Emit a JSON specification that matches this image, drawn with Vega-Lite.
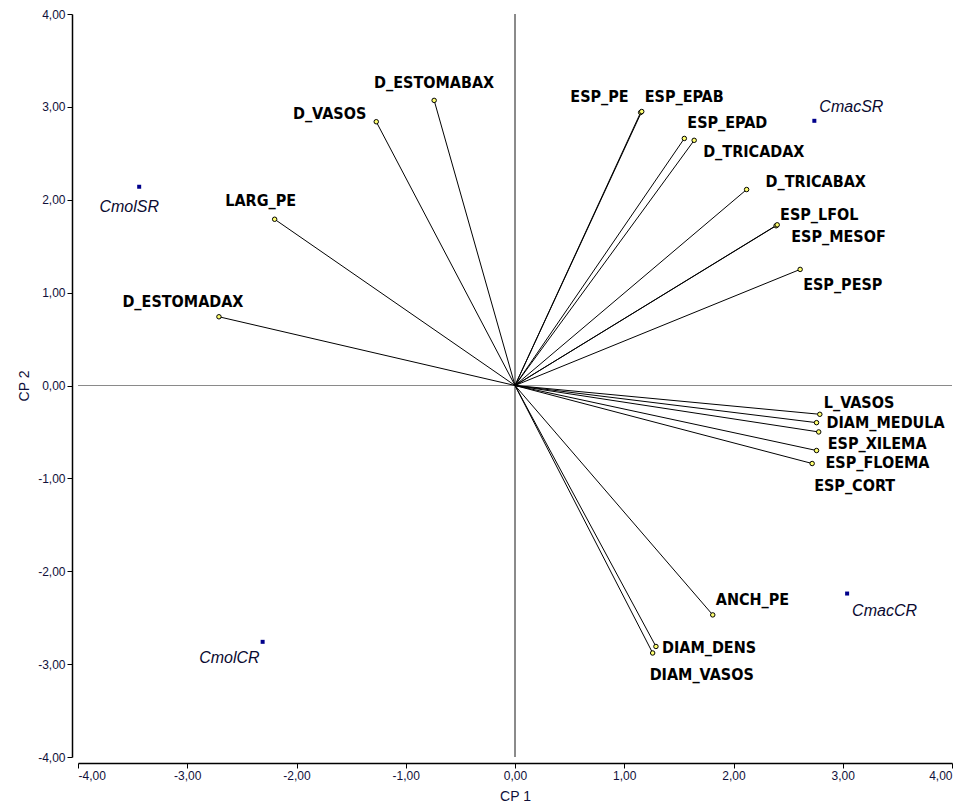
{
  "$schema": "https://vega.github.io/schema/vega-lite/v6.json",
  "width": 874,
  "height": 743,
  "autosize": {"type": "none"},
  "padding": {"left": 78, "top": 14, "right": 24, "bottom": 50},
  "background": "white",
  "config": {
    "view": {"stroke": null},
    "axis": {
      "grid": false,
      "domainColor": "#000000",
      "domainWidth": 1.5,
      "tickColor": "#000000",
      "tickSize": 5,
      "labelFont": "Liberation Sans, Arial",
      "labelFontSize": 12,
      "labelColor": "#10103a",
      "titleFont": "Liberation Sans, Arial",
      "titleFontSize": 14,
      "titleFontWeight": "normal",
      "titleColor": "#10103a"
    },
    "text": {"font": "Liberation Sans Narrow, DejaVu Sans Condensed, Arial", "fontWeight": "bold", "fontSize": 16, "color": "#000000", "baseline": "middle"}
  },
  "datasets": {
    "items": [
      {"name": "D_ESTOMABAX", "x": -0.74, "y": 3.07, "type": "var"},
      {"name": "D_VASOS", "x": -1.27, "y": 2.84, "type": "var"},
      {"name": "LARG_PE", "x": -2.2, "y": 1.79, "type": "var"},
      {"name": "D_ESTOMADAX", "x": -2.71, "y": 0.74, "type": "var"},
      {"name": "ESP_PE", "x": 1.15, "y": 2.94, "type": "var"},
      {"name": "ESP_EPAB", "x": 1.16, "y": 2.95, "type": "var"},
      {"name": "ESP_EPAD", "x": 1.55, "y": 2.66, "type": "var"},
      {"name": "D_TRICADAX", "x": 1.64, "y": 2.64, "type": "var"},
      {"name": "D_TRICABAX", "x": 2.12, "y": 2.11, "type": "var"},
      {"name": "ESP_LFOL", "x": 2.39, "y": 1.72, "type": "var"},
      {"name": "ESP_MESOF", "x": 2.4, "y": 1.73, "type": "var"},
      {"name": "ESP_PESP", "x": 2.61, "y": 1.25, "type": "var"},
      {"name": "L_VASOS", "x": 2.79, "y": -0.31, "type": "var"},
      {"name": "DIAM_MEDULA", "x": 2.76, "y": -0.4, "type": "var"},
      {"name": "ESP_XILEMA", "x": 2.78, "y": -0.5, "type": "var"},
      {"name": "ESP_FLOEMA", "x": 2.76, "y": -0.7, "type": "var"},
      {"name": "ESP_CORT", "x": 2.72, "y": -0.84, "type": "var"},
      {"name": "ANCH_PE", "x": 1.81, "y": -2.47, "type": "var"},
      {"name": "DIAM_DENS", "x": 1.29, "y": -2.81, "type": "var"},
      {"name": "DIAM_VASOS", "x": 1.26, "y": -2.88, "type": "var"},
      {"name": "CmolSR", "x": -3.44, "y": 2.14, "type": "trt"},
      {"name": "CmolCR", "x": -2.31, "y": -2.76, "type": "trt"},
      {"name": "CmacSR", "x": 2.74, "y": 2.85, "type": "trt"},
      {"name": "CmacCR", "x": 3.04, "y": -2.24, "type": "trt"}
    ]
  },
  "data": {"name": "items"},
  "layer": [
    {
      "mark": {"type": "point", "opacity": 0},
      "encoding": {
        "x": {"field": "x", "type": "quantitative",
          "scale": {"domain": [-4, 4], "nice": false, "zero": false},
          "axis": {"orient": "bottom", "offset": 6, "values": [-4, -3, -2, -1, 0, 1, 2, 3, 4],
            "labelExpr": "replace(replace(format(datum.value, '.2f'), '.', ','), '\u2212', '-')", "title": "CP 1", "titlePadding": 8}},
        "y": {"field": "y", "type": "quantitative",
          "scale": {"domain": [-4, 4], "nice": false, "zero": false},
          "axis": {"orient": "left", "offset": 6, "values": [-4, -3, -2, -1, 0, 1, 2, 3, 4],
            "labelExpr": "replace(replace(format(datum.value, '.2f'), '.', ','), '\u2212', '-')", "title": "CP 2", "titlePadding": 6}}
      }
    },
    {
      "mark": {"type": "rule", "color": "#8a8a8a", "strokeWidth": 1},
      "encoding": {"x": {"datum": 0, "type": "quantitative"}}
    },
    {
      "mark": {"type": "rule", "color": "#8a8a8a", "strokeWidth": 1},
      "encoding": {"y": {"datum": 0, "type": "quantitative"}}
    },
    {
      "transform": [{"filter": "datum.type === 'var'"}],
      "mark": {"type": "rule", "color": "#000000", "strokeWidth": 1},
      "encoding": {
        "x": {"field": "x", "type": "quantitative"},
        "y": {"field": "y", "type": "quantitative"},
        "x2": {"datum": 0},
        "y2": {"datum": 0}
      }
    },
    {
      "transform": [{"filter": "datum.type === 'var'"}],
      "mark": {"type": "point", "filled": true, "fill": "#ffff70", "stroke": "#000000", "strokeWidth": 1, "size": 20, "opacity": 1},
      "encoding": {"x": {"field": "x", "type": "quantitative"}, "y": {"field": "y", "type": "quantitative"}}
    },
    {
      "transform": [{"filter": "datum.type === 'trt'"}],
      "mark": {"type": "point", "shape": "square", "filled": true, "color": "#00008b", "size": 16, "opacity": 1},
      "encoding": {"x": {"field": "x", "type": "quantitative"}, "y": {"field": "y", "type": "quantitative"}}
    },
    {
      "layer": [
        {"transform": [{"filter": {"field": "name", "oneOf": ["D_ESTOMABAX"]}}],
         "mark": {"type": "text", "align": "center", "dx": 0, "dy": -17}},
        {"transform": [{"filter": {"field": "name", "oneOf": ["LARG_PE"]}}],
         "mark": {"type": "text", "align": "center", "dx": -14, "dy": -18}},
        {"transform": [{"filter": {"field": "name", "oneOf": ["D_ESTOMADAX"]}}],
         "mark": {"type": "text", "align": "center", "dx": -36, "dy": -15}},
        {"transform": [{"filter": {"field": "name", "oneOf": ["D_VASOS"]}}],
         "mark": {"type": "text", "align": "right", "dx": -10, "dy": -8}},
        {"transform": [{"filter": {"field": "name", "oneOf": ["ESP_PE"]}}],
         "mark": {"type": "text", "align": "right", "dx": -12, "dy": -15}},
        {"transform": [{"filter": {"field": "name", "oneOf": ["ESP_EPAB", "ESP_EPAD", "ANCH_PE"]}}],
         "mark": {"type": "text", "align": "left", "dx": 3, "dy": -15}},
        {"transform": [{"filter": {"field": "name", "oneOf": ["ESP_LFOL", "L_VASOS"]}}],
         "mark": {"type": "text", "align": "left", "dx": 4, "dy": -11}},
        {"transform": [{"filter": {"field": "name", "oneOf": ["D_TRICADAX", "ESP_XILEMA", "ESP_FLOEMA"]}}],
         "mark": {"type": "text", "align": "left", "dx": 9, "dy": 12}},
        {"transform": [{"filter": {"field": "name", "oneOf": ["ESP_MESOF"]}}],
         "mark": {"type": "text", "align": "left", "dx": 14, "dy": 12}},
        {"transform": [{"filter": {"field": "name", "oneOf": ["D_TRICABAX"]}}],
         "mark": {"type": "text", "align": "left", "dx": 19, "dy": -8}},
        {"transform": [{"filter": {"field": "name", "oneOf": ["ESP_PESP"]}}],
         "mark": {"type": "text", "align": "left", "dx": 3, "dy": 16}},
        {"transform": [{"filter": {"field": "name", "oneOf": ["DIAM_MEDULA"]}}],
         "mark": {"type": "text", "align": "left", "dx": 10, "dy": 0}},
        {"transform": [{"filter": {"field": "name", "oneOf": ["ESP_CORT"]}}],
         "mark": {"type": "text", "align": "left", "dx": 2, "dy": 22}},
        {"transform": [{"filter": {"field": "name", "oneOf": ["DIAM_DENS"]}}],
         "mark": {"type": "text", "align": "left", "dx": 6, "dy": 2}},
        {"transform": [{"filter": {"field": "name", "oneOf": ["DIAM_VASOS"]}}],
         "mark": {"type": "text", "align": "left", "dx": -3, "dy": 22}}
      ],
      "encoding": {
        "x": {"field": "x", "type": "quantitative"},
        "y": {"field": "y", "type": "quantitative"},
        "text": {"field": "name"}
      }
    },
    {
      "layer": [
        {"transform": [{"filter": {"field": "name", "oneOf": ["CmolSR"]}}],
         "mark": {"type": "text", "align": "center", "dx": -10, "dy": 20, "font": "Liberation Sans, Arial", "fontStyle": "italic", "fontWeight": "normal", "fontSize": 16, "color": "#0a0a30"}},
        {"transform": [{"filter": {"field": "name", "oneOf": ["CmolCR"]}}],
         "mark": {"type": "text", "align": "right", "dx": -3, "dy": 16, "font": "Liberation Sans, Arial", "fontStyle": "italic", "fontWeight": "normal", "fontSize": 16, "color": "#0a0a30"}},
        {"transform": [{"filter": {"field": "name", "oneOf": ["CmacSR"]}}],
         "mark": {"type": "text", "align": "left", "dx": 5, "dy": -14, "font": "Liberation Sans, Arial", "fontStyle": "italic", "fontWeight": "normal", "fontSize": 16, "color": "#0a0a30"}},
        {"transform": [{"filter": {"field": "name", "oneOf": ["CmacCR"]}}],
         "mark": {"type": "text", "align": "left", "dx": 5, "dy": 17, "font": "Liberation Sans, Arial", "fontStyle": "italic", "fontWeight": "normal", "fontSize": 16, "color": "#0a0a30"}}
      ],
      "encoding": {
        "x": {"field": "x", "type": "quantitative"},
        "y": {"field": "y", "type": "quantitative"},
        "text": {"field": "name"}
      }
    }
  ]
}
